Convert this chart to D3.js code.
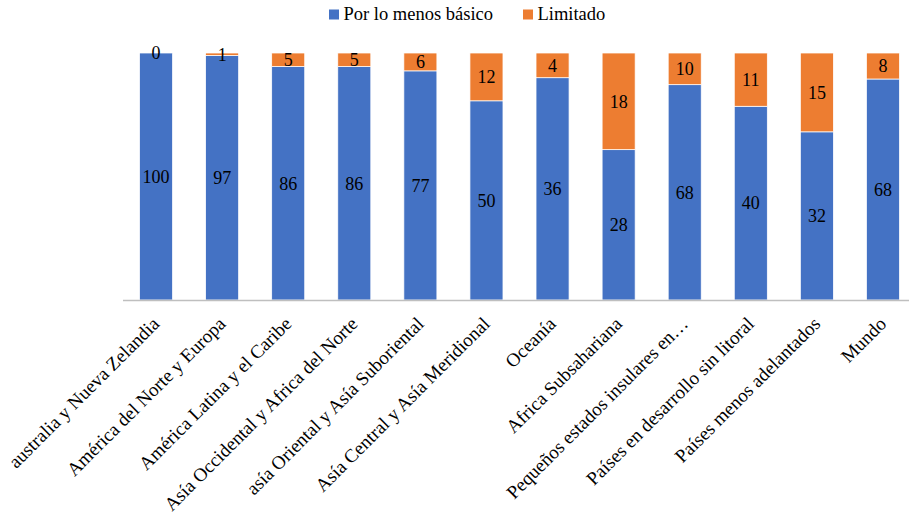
<!DOCTYPE html>
<html>
<head>
<meta charset="utf-8">
<script src="https://cdn.jsdelivr.net/npm/d3@7"></script>
<style>
  body { margin: 0; background: #fff; }
  svg text { font-family: "Liberation Serif", serif; }
</style>
</head>
<body>
<div id="chart"></div>
<script>
const categories = [
    "australia y Nueva Zelandia",
    "América del Norte y Europa",
    "América Latina y el Caribe",
    "Asía Occidental y Africa del Norte",
    "asía Oriental y Asía Suboriental",
    "Asía Central y Asía Meridional",
    "Oceanía",
    "Africa Subsahariana",
    "Pequeños estados insulares en…",
    "Países en desarrollo sin litoral",
    "Países menos adelantados",
    "Mundo"
];
const basico = [100, 97, 86, 86, 77, 50, 36, 28, 68, 40, 32, 68];
const limitado = [0, 1, 5, 5, 6, 12, 4, 18, 10, 11, 15, 8];
const seriesNames = ["Por lo menos básico", "Limitado"];
const colors = ["#4472C4", "#ED7D31"];

const width = 909;
const height = 519;
const font = "Liberation Serif, serif";

const svg = d3.select("#chart")
    .append("svg")
    .attr("width", width)
    .attr("height", height)
    .style("font-family", font);

const data = categories.map((c, i) => ({ cat: c, basico: basico[i], limitado: limitado[i] }));

// 100% stacked: each bar is normalised to its own total
const stack = d3.stack()
    .keys(["basico", "limitado"])
    .offset(d3.stackOffsetExpand);
const layers = stack(data);

const x = d3.scaleBand()
    .domain(categories)
    .range([123, 916])
    .paddingInner(0.5)
    .paddingOuter(0.25);

const y = d3.scaleLinear()
    .domain([0, 1])
    .range([300, 53]);

const groups = svg.append("g")
    .selectAll("g")
    .data(layers)
    .enter().append("g")
    .attr("fill", (d, i) => colors[i]);

groups.selectAll("rect")
    .data(d => d)
    .enter().append("rect")
    .attr("x", d => x(d.data.cat))
    .attr("width", x.bandwidth())
    .attr("y", d => y(d[1]))
    .attr("height", d => y(d[0]) - y(d[1]))
    .attr("stroke", "#fff")
    .attr("stroke-width", 0.75);

// value labels, centred in each segment
groups.selectAll("text")
    .data(d => d.map(p => ({ p, v: p.data[d.key] })))
    .enter().append("text")
    .attr("x", d => x(d.p.data.cat) + x.bandwidth() / 2)
    .attr("y", d => (y(d.p[0]) + y(d.p[1])) / 2)
    .attr("dy", "0.35em")
    .attr("text-anchor", "middle")
    .attr("fill", "#000")
    .style("font-family", font)
    .style("font-size", "18px")
    .text(d => d.v);

// axis line
svg.append("line")
    .attr("x1", 123)
    .attr("x2", 916)
    .attr("y1", y(0) + 0.5)
    .attr("y2", y(0) + 0.5)
    .attr("stroke", "#BFBFBF")
    .attr("stroke-width", 1.5);

// rotated category labels
svg.append("g")
    .selectAll("text")
    .data(categories)
    .enter().append("text")
    .attr("transform", d => `translate(${x(d) + x.bandwidth() / 2 + 4.5},${y(0) + 25}) rotate(-45)`)
    .attr("text-anchor", "end")
    .attr("fill", "#000")
    .style("font-family", font)
    .style("font-size", "19px")
    .text(d => d);

// legend
const legend = svg.append("g");
const legendX = [329, 523];
seriesNames.forEach((name, i) => {
    legend.append("rect")
        .attr("x", legendX[i])
        .attr("y", 9.5)
        .attr("width", 10)
        .attr("height", 10)
        .attr("fill", colors[i]);
    legend.append("text")
        .attr("x", legendX[i] + 14.5)
        .attr("y", 20)
        .attr("fill", "#000")
        .style("font-family", font)
        .style("font-size", "18.5px")
        .text(name);
});
</script>
</body>
</html>
